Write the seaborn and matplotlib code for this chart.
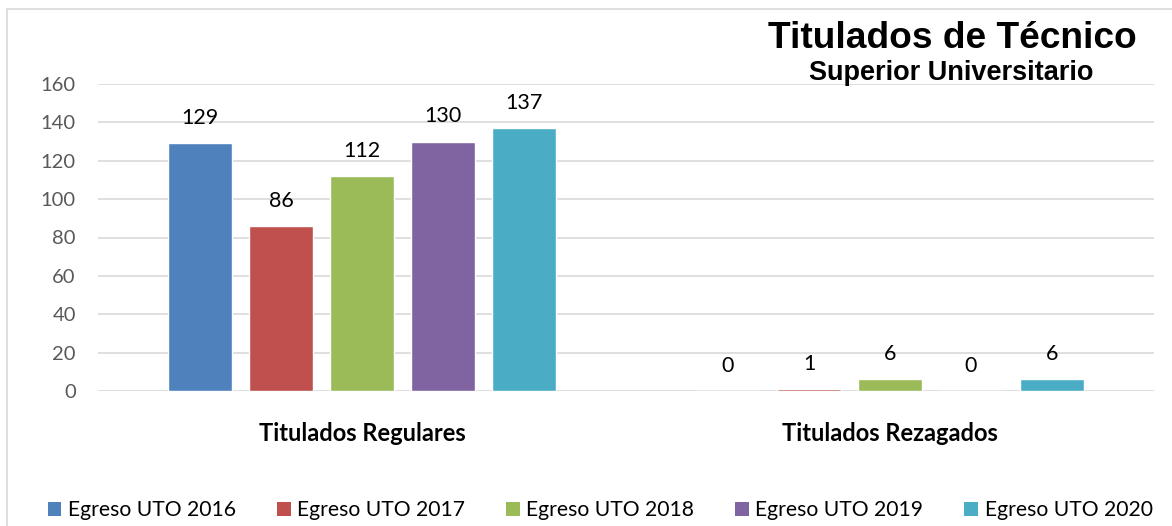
import matplotlib
matplotlib.use("Agg")
import matplotlib.pyplot as plt
import seaborn as sns
import pandas as pd
from matplotlib.patches import Rectangle, Patch

categorias = ["Titulados Regulares", "Titulados Rezagados"]
series = ["Egreso UTO 2016", "Egreso UTO 2017", "Egreso UTO 2018", "Egreso UTO 2019", "Egreso UTO 2020"]
valores_regulares = [129, 86, 112, 130, 137]
valores_rezagados = [0, 1, 6, 0, 6]
colores = ["#4F81BD", "#C0504D", "#9BBB59", "#8064A2", "#4BACC6"]
y_ticks = [0, 20, 40, 60, 80, 100, 120, 140, 160]

rows = []
for s, v in zip(series, valores_regulares):
    rows.append({"categoria": categorias[0], "serie": s, "valor": v})
for s, v in zip(series, valores_rezagados):
    rows.append({"categoria": categorias[1], "serie": s, "valor": v})
df = pd.DataFrame(rows)

sns.set_theme(style="white")
plt.rcParams["font.family"] = ["Lato", "DejaVu Sans"]

fig = plt.figure(figsize=(11.72, 5.26), dpi=100)
ax = fig.add_axes([98/1172, (526-391)/526, (1154-98)/1172, (391-84)/526])

sns.barplot(data=df, x="categoria", y="valor", hue="serie", hue_order=series,
            order=categorias, palette=colores, width=0.767, gap=0.21,
            saturation=1, ax=ax, legend=False)

ax.set_ylim(0, 160)
ax.set_yticks(y_ticks)
ax.yaxis.grid(True, color="#D9D9D9", linewidth=1.2)
ax.set_axisbelow(True)
for sp in ax.spines.values():
    sp.set_visible(False)
ax.tick_params(axis="y", length=0, pad=16, labelsize=14.5, labelcolor="#595959")
ax.tick_params(axis="x", length=0, pad=22.5, labelsize=17)
for t in ax.get_xticklabels():
    t.set_fontweight("bold")
    t.set_color("black")
ax.set_xlabel("")
ax.set_ylabel("")

for cont in ax.containers:
    ax.bar_label(cont, padding=11, fontsize=15.5, color="black")

fig.text(952/1172, (526-38)/526, "Titulados de Técnico", ha="center", va="center",
         fontsize=26.7, fontweight="bold", family="Liberation Sans", color="black")
fig.text(951/1172, (526-73)/526, "Superior Universitario", ha="center", va="center",
         fontsize=19.5, fontweight="bold", family="Liberation Sans", color="black")

handles = [Patch(facecolor=c, edgecolor="none") for c in colores]
fig.legend(handles, series, loc="center", bbox_to_anchor=(0.512, (526-510)/526),
           ncol=5, frameon=False, fontsize=15.2, handlelength=0.65, handleheight=0.65,
           handletextpad=0.3, columnspacing=1.95, labelcolor="black")

fig.patches.append(Rectangle((7/1172, -0.1), 1.2, (526-9)/526 + 0.1, transform=fig.transFigure,
                             fill=False, edgecolor="#D9D9D9", linewidth=1.2))

fig.savefig("out.png", dpi=100)
